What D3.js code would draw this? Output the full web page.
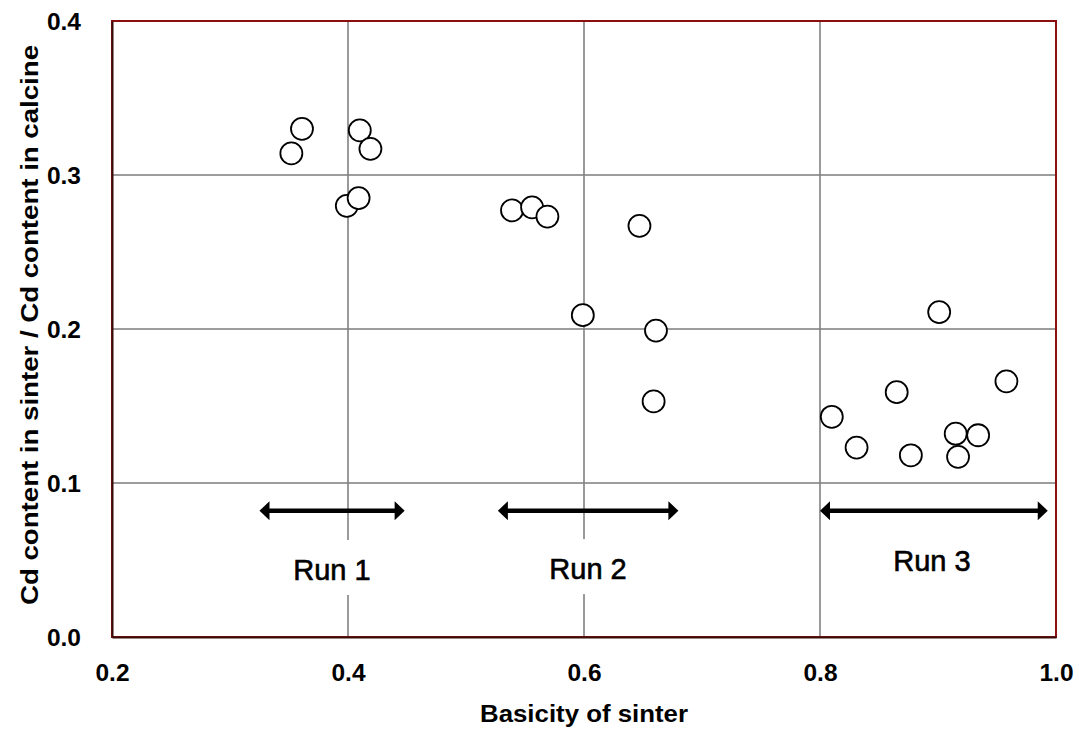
<!DOCTYPE html>
<html>
<head>
<meta charset="utf-8">
<script src="https://cdn.jsdelivr.net/npm/d3@7"></script>
<style>
  html, body { margin: 0; padding: 0; background: #fff; }
  svg { display: block; }
  text { font-family: "Liberation Sans", Arial, sans-serif; fill: #000; }
</style>
</head>
<body>
<div id="chart"></div>
<script>
// Cd ratio (sinter / calcine) against sinter basicity, three test runs
const runNames = ["Run 1", "Run 2", "Run 3"];

const run1Basicity = [0.352, 0.361, 0.410, 0.419, 0.399, 0.409];
const run1CdRatio  = [0.314, 0.330, 0.329, 0.317, 0.280, 0.285];

const run2Basicity = [0.539, 0.556, 0.569, 0.647, 0.599, 0.661, 0.659];
const run2CdRatio  = [0.277, 0.279, 0.273, 0.267, 0.209, 0.199, 0.153];

const run3Basicity = [0.901, 0.865, 0.810, 0.831, 0.877, 0.915, 0.917, 0.934, 0.958];
const run3CdRatio  = [0.211, 0.159, 0.143, 0.123, 0.118, 0.132, 0.117, 0.131, 0.166];

// basicity span covered by each run (double-headed arrows)
const runRangeStart = [0.325, 0.527, 0.800];
const runRangeEnd   = [0.448, 0.680, 0.993];
const runRangeLevel = 0.082;

const xTicks = [0.2, 0.4, 0.6, 0.8, 1.0];
const yTicks = [0.0, 0.1, 0.2, 0.3, 0.4];

const xTitle = "Basicity of sinter";
const yTitle = "Cd content in sinter / Cd content in calcine";

const W = 1079, H = 731;
const m = { left: 112, top: 21, right: 1056, bottom: 637 };

const svg = d3.select("#chart").append("svg")
  .attr("width", W).attr("height", H);

const x = d3.scaleLinear().domain([0.2, 1.0]).range([m.left, m.right]);
const y = d3.scaleLinear().domain([0.0, 0.4]).range([m.bottom, m.top]);

// gridlines
const grid = svg.append("g");
grid.selectAll("line.h").data(yTicks.slice(1, -1)).enter().append("line")
  .attr("x1", m.left).attr("x2", m.right)
  .attr("y1", d => y(d)).attr("y2", d => y(d))
  .attr("stroke", "#3a3a3a").attr("stroke-width", 1);
grid.selectAll("line.v").data(xTicks.slice(1, -1)).enter().append("line")
  .attr("y1", m.top).attr("y2", m.bottom)
  .attr("x1", d => x(d)).attr("x2", d => x(d))
  .attr("stroke", "#808080").attr("stroke-width", 1.6);

// run labels sit on white boxes that mask the gridlines
const labelX = [0.3864, 0.6034, 0.8949];
const labelY = [0.0370, 0.0376, 0.0429];
const labels = svg.append("g");
runNames.forEach((name, i) => {
  const cx = x(labelX[i]), by = y(labelY[i]);
  labels.append("rect")
    .attr("x", cx - 55).attr("y", by - 40)
    .attr("width", 110).attr("height", 55)
    .attr("fill", "#fff");
  labels.append("text")
    .attr("x", cx).attr("y", by)
    .attr("text-anchor", "middle")
    .attr("font-size", 29)
    .attr("stroke", "#000").attr("stroke-width", 0.6)
    .text(name);
});

// double-headed arrows
const arrows = svg.append("g");
const headLen = 10, headHalf = 9.5;
runRangeStart.forEach((s, i) => {
  const x0 = x(s), x1 = x(runRangeEnd[i]), yy = y(runRangeLevel);
  arrows.append("line")
    .attr("x1", x0 + headLen - 1).attr("x2", x1 - headLen + 1)
    .attr("y1", yy).attr("y2", yy)
    .attr("stroke", "#000").attr("stroke-width", 4.4);
  arrows.append("path")
    .attr("d", `M${x0},${yy} L${x0 + headLen},${yy - headHalf} L${x0 + headLen},${yy + headHalf} Z`)
    .attr("fill", "#000");
  arrows.append("path")
    .attr("d", `M${x1},${yy} L${x1 - headLen},${yy - headHalf} L${x1 - headLen},${yy + headHalf} Z`)
    .attr("fill", "#000");
});

// measured points
const points = []
  .concat(run1Basicity.map((b, i) => ({ b, r: run1CdRatio[i] })))
  .concat(run2Basicity.map((b, i) => ({ b, r: run2CdRatio[i] })))
  .concat(run3Basicity.map((b, i) => ({ b, r: run3CdRatio[i] })));

svg.append("g").selectAll("circle").data(points).enter().append("circle")
  .attr("cx", d => x(d.b)).attr("cy", d => y(d.r))
  .attr("r", 11)
  .attr("fill", "#fff")
  .attr("stroke", "#000").attr("stroke-width", 1.8);

// plot frame
svg.append("rect")
  .attr("x", m.left).attr("y", m.top)
  .attr("width", m.right - m.left).attr("height", m.bottom - m.top)
  .attr("fill", "none").attr("stroke", "#8c0f0f").attr("stroke-width", 2);

// axes
const xAxis = d3.axisBottom(x).tickValues(xTicks).tickFormat(d3.format(".1f")).tickSize(0).tickPadding(27);
const yAxis = d3.axisLeft(y).tickValues(yTicks).tickFormat(d3.format(".1f")).tickSize(0).tickPadding(31);

const gx = svg.append("g").attr("transform", `translate(0,${m.bottom})`).call(xAxis);
const gy = svg.append("g").attr("transform", `translate(${m.left},0)`).call(yAxis);
[gx, gy].forEach(g => {
  g.select(".domain").attr("stroke", "#3a0d0d").attr("stroke-width", 2);
  g.selectAll("text")
    .attr("font-family", "'Liberation Sans', Arial, sans-serif")
    .attr("font-size", 24.5).attr("font-weight", "bold").attr("fill", "#000");
});
gy.selectAll("text").attr("dy", "0.36em");

// axis titles
svg.append("text")
  .attr("x", (m.left + m.right) / 2).attr("y", 722)
  .attr("text-anchor", "middle")
  .attr("font-size", 23).attr("font-weight", "bold")
  .attr("textLength", 208).attr("lengthAdjust", "spacingAndGlyphs")
  .text(xTitle);

svg.append("text")
  .attr("transform", `translate(38,${(45 + 605) / 2}) rotate(-90)`)
  .attr("text-anchor", "middle")
  .attr("font-size", 24).attr("font-weight", "bold")
  .attr("textLength", 560).attr("lengthAdjust", "spacingAndGlyphs")
  .text(yTitle);
</script>
</body>
</html>
